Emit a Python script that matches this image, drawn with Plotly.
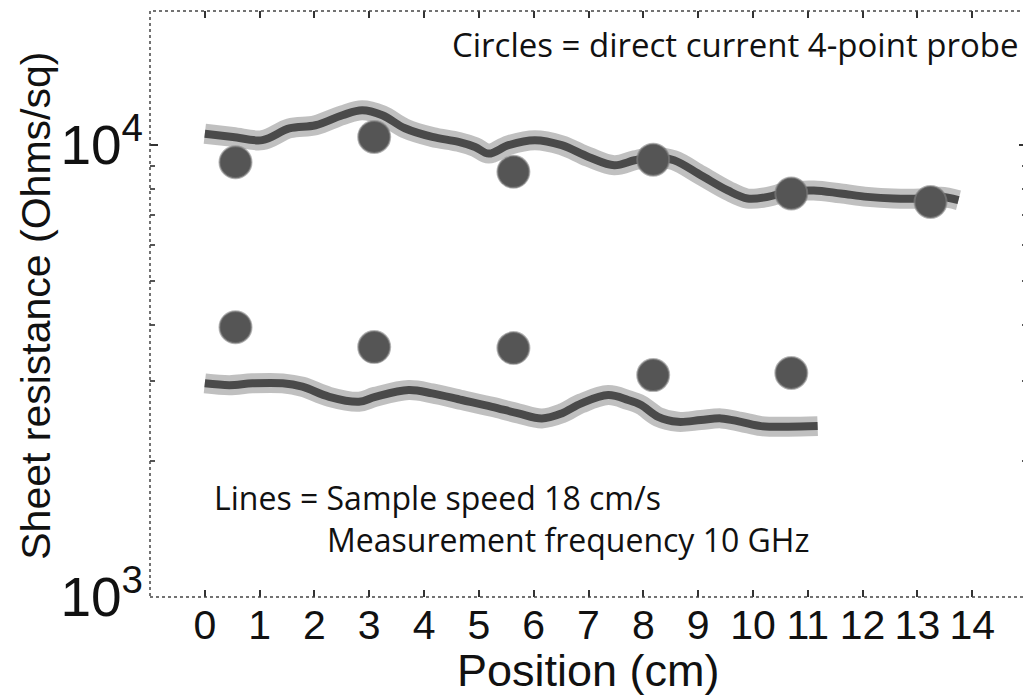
import plotly.graph_objects as go

# Continuous (microwave) scan lines
upper_line_x = [0.0, 0.51, 1.05, 1.54, 2.02, 2.51, 2.87, 3.24, 3.65, 4.15, 4.63, 4.93, 5.18, 5.54,
                6.02, 6.51, 7.0, 7.47, 7.84, 8.18, 8.56, 9.05, 9.54, 9.9, 10.27, 10.63, 11.11,
                11.6, 12.09, 12.56, 13.05, 13.42, 13.75]
upper_line_y = [10600, 10430, 10260, 10890, 11070, 11650, 11950, 11650, 10900, 10430, 10170, 9910,
                9580, 10000, 10260, 10000, 9420, 9030, 9260, 9420, 9260, 8580, 7940, 7620, 7685,
                7880, 7940, 7820, 7685, 7620, 7620, 7685, 7555]

lower_line_x = [0.0, 0.45, 0.87, 1.42, 1.78, 2.27, 2.81, 3.11, 3.72, 4.15, 4.69, 5.24, 5.72, 6.15,
                6.51, 6.87, 7.36, 7.72, 7.96, 8.27, 8.63, 9.05, 9.42, 9.78, 10.15, 10.63, 11.18]
lower_line_y = [2971, 2944, 2971, 2971, 2920, 2774, 2704, 2774, 2871, 2823, 2729, 2636, 2549, 2485,
                2549, 2683, 2798, 2729, 2660, 2505, 2442, 2464, 2485, 2442, 2389, 2381, 2389]

# Direct current 4-point probe points
upper_pts_x = [0.56, 3.09, 5.63, 8.18, 10.70, 13.24]
upper_pts_y = [9170, 10430, 8730, 9290, 7820, 7490]
lower_pts_x = [0.56, 3.09, 5.63, 8.18, 10.70]
lower_pts_y = [3956, 3574, 3556, 3098, 3132]

x_ticks = list(range(0, 15))

fig = go.Figure()

for lx, ly in [(upper_line_x, upper_line_y), (lower_line_x, lower_line_y)]:
    fig.add_trace(go.Scatter(x=lx, y=ly, mode="lines", showlegend=False, hoverinfo="skip",
                             line=dict(color="rgba(140,140,140,0.55)", width=20, shape="spline")))
    fig.add_trace(go.Scatter(x=lx, y=ly, mode="lines", showlegend=False,
                             line=dict(color="#4a4a4a", width=8, shape="spline")))

for px, py in [(upper_pts_x, upper_pts_y), (lower_pts_x, lower_pts_y)]:
    fig.add_trace(go.Scatter(x=px, y=py, mode="markers", showlegend=False,
                             marker=dict(size=32, color="#555555",
                                         line=dict(color="rgba(130,130,130,0.6)", width=2))))

FONT = "Liberation Sans, Arial, sans-serif"
note_font = dict(family="Open Sans, sans-serif", size=32, color="#111111")

fig.update_layout(
    width=1023, height=688,
    margin=dict(l=142, r=4, t=3, b=99),
    paper_bgcolor="white", plot_bgcolor="white",
    font=dict(family=FONT, color="#111111"),
    xaxis=dict(range=[-1, 15], tickvals=x_ticks, ticktext=[str(v) for v in x_ticks],
               ticks="inside", ticklen=7, tickwidth=1.5, tickcolor="#333333", mirror="ticks",
               showgrid=False, zeroline=False, showline=False, automargin=False,
               tickfont=dict(family=FONT, size=41, color="#111111")),
    yaxis=dict(type="log", range=[3, 4.297], dtick=1, exponentformat="power", showexponent="all",
               ticks="inside", ticklen=8, tickwidth=1.5, tickcolor="#333333", mirror="ticks",
               minor=dict(ticks="inside", ticklen=5, dtick="D1", tickcolor="#555555"),
               showgrid=False, zeroline=False, showline=False, automargin=False,
               ticklabelstandoff=6, tickfont=dict(family=FONT, size=44, color="#111111")),
    shapes=[dict(type="rect", xref="paper", yref="paper", x0=0, x1=1, y0=0, y1=1,
                 line=dict(color="#444444", width=1.5, dash="dot"), layer="above")],
    annotations=[
        dict(text="Position (cm)", xref="paper", yref="paper", x=0.5, y=-0.125,
             xanchor="center", yanchor="middle", showarrow=False,
             font=dict(family=FONT, size=45, color="#111111")),
        dict(text="Sheet resistance (Ohms/sq)", xref="paper", yref="paper", x=-0.13, y=0.497,
             xanchor="center", yanchor="middle", textangle=-90, showarrow=False,
             font=dict(family=FONT, size=41, color="#111111")),
        dict(text="Circles = direct current 4-point probe", xref="paper", yref="paper",
             x=0.993, y=0.942, xanchor="right", yanchor="middle", showarrow=False,
             font=dict(family="Open Sans, sans-serif", size=33, color="#111111")),
        dict(text="Lines = Sample speed 18 cm/s", xref="paper", yref="paper",
             x=0.071, y=0.1706, xanchor="left", yanchor="middle", showarrow=False,
             font=note_font),
        dict(text="Measurement frequency 10 GHz", xref="paper", yref="paper",
             x=0.199, y=0.0973, xanchor="left", yanchor="middle", showarrow=False,
             font=note_font),
    ],
)

fig.write_html("out.html")
